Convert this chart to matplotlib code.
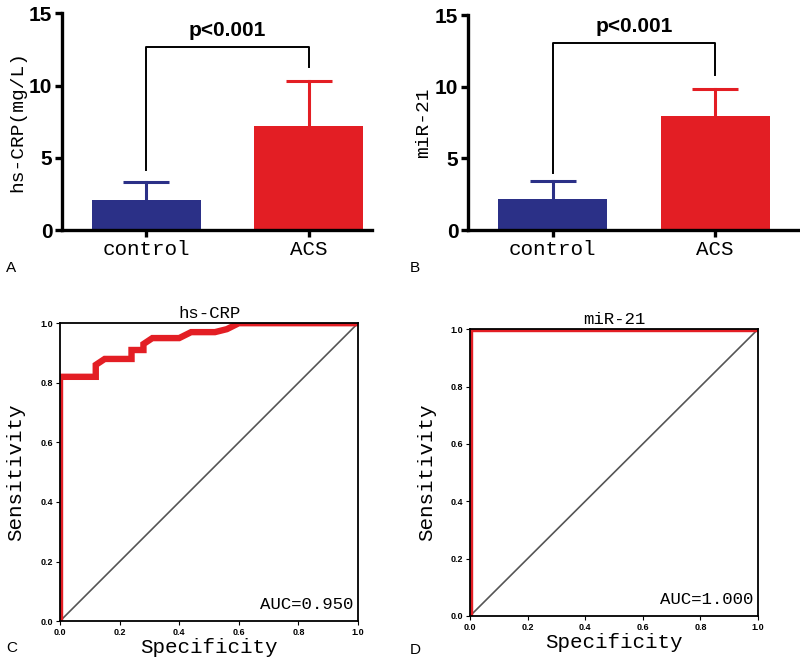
import matplotlib
matplotlib.use("Agg")
import matplotlib.pyplot as plt

# bar panels (mean with upper SD)
groups = ["control", "ACS"]
crp_mean = [2.1, 7.2]
crp_sd = [1.25, 3.15]
mir_mean = [2.2, 8.0]
mir_sd = [1.2, 1.85]

# ROC curves (1 - specificity on x, sensitivity on y)
crp_fpr = [0.0, 0.0, 0.12, 0.12, 0.15, 0.24, 0.24, 0.28, 0.28, 0.31, 0.40, 0.44, 0.52, 0.56, 0.60, 1.0]
crp_tpr = [0.0, 0.82, 0.82, 0.86, 0.88, 0.88, 0.91, 0.91, 0.93, 0.95, 0.95, 0.97, 0.97, 0.98, 1.0, 1.0]
mir_fpr = [0.0, 0.0, 1.0]
mir_tpr = [0.0, 1.0, 1.0]
roc_ticks = [0.0, 0.2, 0.4, 0.6, 0.8, 1.0]

BLUE = "#2b3087"
RED = "#e31e24"
SERIF = "Liberation Mono"
SANS = "Liberation Sans"

fig = plt.figure(figsize=(8, 6.65), dpi=100)


def bar_panel(rect, means, sds, ylabel, bracket, xmax, letter):
    ax = fig.add_axes(rect)
    x = list(range(len(groups)))
    colors = [BLUE, RED]
    ax.bar(x, means, width=0.67, color=colors, zorder=2)
    # upper-only error bars: stem plus a cap
    for xi, m, s, c in zip(x, means, sds, colors):
        ax.plot([xi, xi], [m, m + s], color=c, lw=2.2, zorder=1)
        ax.plot(xi, m + s, marker="_", markersize=33, mew=2.2, color=c,
                zorder=1)
    y_top, y_left, y_right = bracket
    ax.plot([0, 0, 1, 1], [y_left, y_top, y_top, y_right], color="black",
            lw=1.4, clip_on=False)
    ax.text(0.5, y_top + 0.45, "p<0.001", ha="center", va="bottom",
            fontsize=15, fontweight="bold", family=SANS)
    ax.set_xlim(-0.52, xmax)
    ax.set_ylim(0, 15)
    ax.set_yticks([0, 5, 10, 15])
    ax.set_xticks(x)
    ax.set_xticklabels(groups, family=SERIF, fontsize=15)
    for lab in ax.get_yticklabels():
        lab.set_family(SANS)
        lab.set_fontweight("bold")
        lab.set_fontsize(15)
    ax.set_ylabel(ylabel, family=SERIF, fontsize=14, labelpad=2)
    for sp in ("top", "right"):
        ax.spines[sp].set_visible(False)
    for sp in ("left", "bottom"):
        ax.spines[sp].set_linewidth(2.4)
    ax.tick_params(direction="out", length=5, width=2.4, pad=2)
    fig.text(letter[1], letter[2], letter[0], family=SANS, fontsize=11,
             ha="left", va="center")
    return ax


def roc_panel(rect, fpr, tpr, title, auc, letter, ypad):
    ax = fig.add_axes(rect)
    ax.plot([0, 1], [0, 1], color="#555555", lw=1.2)
    ax.plot(fpr, tpr, color=RED, lw=4.6, solid_joinstyle="miter")
    ax.set_xlim(0, 1)
    ax.set_ylim(0, 1)
    ax.set_xticks(roc_ticks)
    ax.set_yticks(roc_ticks)
    ax.set_xticklabels([f"{t:.1f}" for t in roc_ticks])
    ax.set_yticklabels([f"{t:.1f}" for t in roc_ticks])
    for lab in ax.get_xticklabels() + ax.get_yticklabels():
        lab.set_family(SANS)
        lab.set_fontweight("bold")
        lab.set_fontsize(6.5)
    ax.tick_params(direction="out", length=3, width=0.8, pad=2)
    for sp in ax.spines.values():
        sp.set_linewidth(1.3)
        sp.set_zorder(3)
    ax.set_title(title, family=SERIF, fontsize=12.5, pad=4)
    ax.set_xlabel("Specificity", family=SERIF, fontsize=15, labelpad=1)
    ax.set_ylabel("Sensitivity", family=SERIF, fontsize=15, labelpad=ypad)
    ax.text(0.985, 0.03, auc, transform=ax.transAxes, ha="right",
            va="bottom", family=SERIF, fontsize=12.5)
    fig.text(letter[1], letter[2], letter[0], family=SANS, fontsize=11,
             ha="left", va="center")
    return ax


bar_panel([0.0775, 0.654, 0.3875, 0.326], crp_mean, crp_sd, "hs-CRP(mg/L)",
          (12.67, 4.15, 11.3), 1.39, ("A", 0.008, 1 - 268 / 665))
bar_panel([0.585, 0.654, 0.4125, 0.323], mir_mean, mir_sd, "miR-21",
          (13.1, 4.0, 10.8), 1.51, ("B", 0.512, 1 - 268 / 665))
roc_panel([0.075, 0.066, 0.3725, 0.448], crp_fpr, crp_tpr, "hs-CRP",
          "AUC=0.950", ("C", 0.008, 1 - 648 / 665), 11)
roc_panel([0.5875, 0.0737, 0.36, 0.4313], mir_fpr, mir_tpr, "miR-21",
          "AUC=1.000", ("D", 0.512, 1 - 650 / 665), 10)

fig.savefig("out.png", dpi=100)
